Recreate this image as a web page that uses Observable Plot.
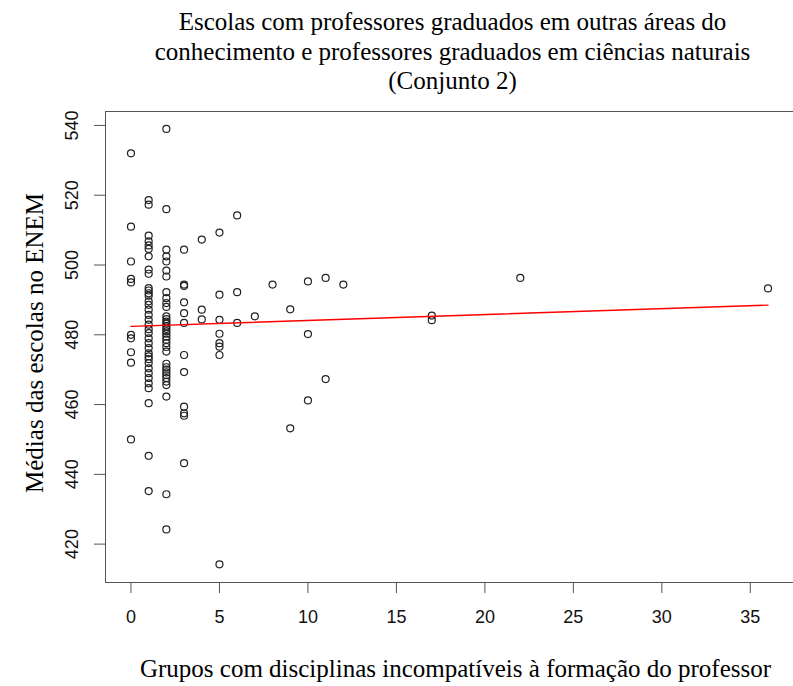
<!DOCTYPE html>
<html><head><meta charset="utf-8">
<script src="https://cdn.jsdelivr.net/npm/d3@7"></script>
<script src="https://cdn.jsdelivr.net/npm/@observablehq/plot@0.6"></script>
<style>body{margin:0;background:#fff}</style>
</head><body><div id="chart"></div>
<script>
const titleLines = [
  "Escolas com professores graduados em outras áreas do",
  "conhecimento e professores graduados em ciências naturais",
  "(Conjunto 2)"
];
const xLabel = "Grupos com disciplinas incompatíveis à formação do professor";
const yLabel = "Médias das escolas no ENEM";
const xTicks = [0, 5, 10, 15, 20, 25, 30, 35];
const yTicks = [420, 440, 460, 480, 500, 520, 540];

const columnX = [0, 1, 2, 3, 4, 5, 6, 7, 8, 9, 10, 11, 12, 17, 22, 36];
const columnY = [
  [532, 511, 501, 496, 495, 480, 479, 475, 472, 450],
  [518.6, 517.3, 508.4, 506.8, 505.6, 504.6, 502.5, 498.7, 497.5, 493.4, 492.7, 491.9, 491.2, 489.6, 488.6, 487.2, 485.7, 484.3, 482.9, 481.6, 480.5, 479.0, 477.6, 476.2, 474.7, 473.8, 473.0, 471.9, 470.4, 469.0, 467.6, 466.1, 464.7, 460.4, 445.3, 435.2],
  [539, 516, 504.4, 502.5, 501, 498.4, 496.7, 492.2, 490.5, 489.1, 488.0, 485.3, 484.5, 483.8, 483.2, 482.4, 481.7, 481.0, 480.3, 479.5, 478.6, 477.6, 476.5, 475.2, 471.7, 470.7, 470.0, 469.2, 468.4, 467.6, 466.6, 465.6, 462.3, 434.3, 424.2],
  [504.4, 494.4, 494, 489.3, 486.2, 483.4, 474.2, 469.3, 459.4, 457.5, 456.8, 443.2],
  [507.3, 487.2, 484.4],
  [509.3, 491.5, 484.3, 480.3, 477.6, 476.6, 474.2, 414.2],
  [514.2, 492.2, 483.4],
  [485.3],
  [494.4],
  [487.3, 453.2],
  [495.3, 480.2, 461.2],
  [496.3, 467.3],
  [494.4],
  [485.5, 484.2],
  [496.3],
  [493.3]
];
const fitX = [0, 36];
const fitY = [482.4, 488.5];

const points = columnX.flatMap((x, i) => columnY[i].map(y => ({x, y})));
const fit = fitX.map((x, i) => ({x, y: fitY[i]}));

const serif = "Liberation Serif, Times New Roman, serif";
const sans = "Liberation Sans, Arial, sans-serif";

const plot = Plot.plot({
  width: 793,
  height: 686,
  marginTop: 111,
  marginBottom: 104,
  marginLeft: 105,
  marginRight: 0,
  style: {background: "#fff", overflow: "visible"},
  x: {domain: [-1.44, 37.44]},
  y: {domain: [409, 544]},
  marks: [
    Plot.frame({stroke: "#555", strokeWidth: 1}),
    Plot.axisX({ticks: xTicks, tickSize: 11, tickPadding: 17, stroke: "#555", fontSize: 18, fontFamily: sans, fill: "#111", label: null}),
    Plot.axisY({ticks: yTicks, tickSize: 11, stroke: "#555", text: null, label: null}),
    Plot.text(yTicks, {y: d => d, text: d => String(d), frameAnchor: "left", textAnchor: "middle", dx: -33, rotate: -90, fontSize: 18, fontFamily: sans, fill: "#111"}),
    Plot.dot(points, {x: "x", y: "y", r: 3.5, stroke: "#222", strokeWidth: 1.2, fill: "none"}),
    Plot.line(fit, {x: "x", y: "y", stroke: "red", strokeWidth: 1.4}),
    Plot.text([titleLines.join("\n")], {frameAnchor: "top", dx: 3, dy: -102, lineAnchor: "top", lineHeight: 1.17, fontSize: 25, fontFamily: serif, fill: "#000"}),
    Plot.text([xLabel], {frameAnchor: "bottom", dy: 94, dx: 6, fontSize: 25, fontFamily: serif, fill: "#000"}),
    Plot.text([yLabel], {frameAnchor: "left", textAnchor: "middle", dx: -71, dy: -4, rotate: -90, fontSize: 25, fontFamily: serif, fill: "#000"})
  ]
});
document.getElementById("chart").appendChild(plot);
</script>
</body></html>
